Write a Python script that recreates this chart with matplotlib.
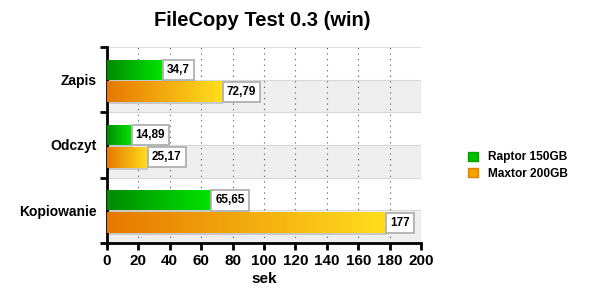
import numpy as np
import matplotlib.pyplot as plt
from matplotlib.colors import LinearSegmentedColormap
from matplotlib.patches import Rectangle

plt.rcParams['font.family'] = ['Liberation Sans', 'DejaVu Sans']
plt.rcParams['font.weight'] = 'bold'

# Data
categories = ['Zapis', 'Odczyt', 'Kopiowanie']
series_names = ['Raptor 150GB', 'Maxtor 200GB']
raptor = [34.7, 14.89, 65.65]
maxtor = [72.79, 25.17, 177]
raptor_labels = ['34,7', '14,89', '65,65']
maxtor_labels = ['72,79', '25,17', '177']

green_cmap = LinearSegmentedColormap.from_list('g', ['#008a00', '#00e400'])
orange_cmap = LinearSegmentedColormap.from_list('o', ['#e67800', '#ffde1e'])

fig = plt.figure(figsize=(6, 3.01), dpi=100)
ax = fig.add_axes([0.178, 0.193, 0.524, 0.651])

ax.set_xlim(0, 200)
ax.set_ylim(len(categories) - 0.5, -0.5)

grad = np.linspace(0, 1, 256).reshape(1, -1)

def draw_bar(y0, y1, value, cmap, label):
    # shadow
    ax.add_patch(Rectangle((0, y0 + 0.03), value + 1.0, y1 - y0, color='#c8c8c8',
                           zorder=2, lw=0))
    ax.imshow(grad, cmap=cmap, aspect='auto', extent=(0, value, y1, y0),
              zorder=3, interpolation='bicubic')
    ax.text(value + 3.5, (y0 + y1) / 2, label, va='center', ha='left', fontsize=8.5,
            fontweight='bold', zorder=5,
            bbox=dict(boxstyle='square,pad=0.35', fc='white', ec='#b0b0b0', lw=1.3))

for i, cat in enumerate(categories):
    # light gray band behind second series
    ax.axhspan(i + 0.0, i + 0.5, color='#efefef', zorder=0, lw=0)
    ax.axhline(i + 0.0, color='#d8d8d8', lw=0.8, zorder=1)
    ax.axhline(i + 0.5, color='#d8d8d8', lw=0.8, zorder=1)
    draw_bar(i - 0.3, i - 0.0, raptor[i], green_cmap, raptor_labels[i])
    draw_bar(i + 0.03, i + 0.35, maxtor[i], orange_cmap, maxtor_labels[i])

ax.axhline(-0.5, color='#d8d8d8', lw=1.2, zorder=1)

ax.set_xticks(np.arange(0, 201, 20))
ax.set_xticklabels([str(v) for v in range(0, 201, 20)], fontsize=11, fontweight='bold')
for x in range(20, 201, 20):
    ax.axvline(x, color='#555555', lw=0.8, ls=(0, (1, 4)), zorder=1)

ax.set_yticks(np.arange(-0.5, len(categories), 1.0))
ax.set_yticklabels([])
ax.set_yticks(np.arange(len(categories)), minor=True)
ax.set_yticklabels(categories, minor=True, fontsize=10, fontweight='bold')
ax.tick_params(axis='y', which='minor', length=0, pad=7)
ax.tick_params(axis='y', which='major', length=5, width=2)
ax.tick_params(axis='x', length=5, width=2, pad=3)

ax.spines['top'].set_visible(False)
ax.spines['right'].set_visible(False)
ax.spines['left'].set_linewidth(2)
ax.spines['bottom'].set_linewidth(2)

ax.set_xlabel('sek', fontsize=11, fontweight='bold', labelpad=3)
fig.suptitle('FileCopy Test 0.3 (win)', fontsize=14.5, fontweight='bold', y=0.965, x=0.437)

# legend
handles = [Rectangle((0, 0), 1, 1, fc='#00c000', ec='#00a000'),
           Rectangle((0, 0), 1, 1, fc='#f5a000', ec='#e08000')]
fig.legend(handles, series_names, loc='center left', bbox_to_anchor=(0.762, 0.45),
           frameon=False, fontsize=8.6, handlelength=0.8, handleheight=0.8,
           handletextpad=0.9, labelspacing=0.35)

fig.savefig('out.png', dpi=100)
